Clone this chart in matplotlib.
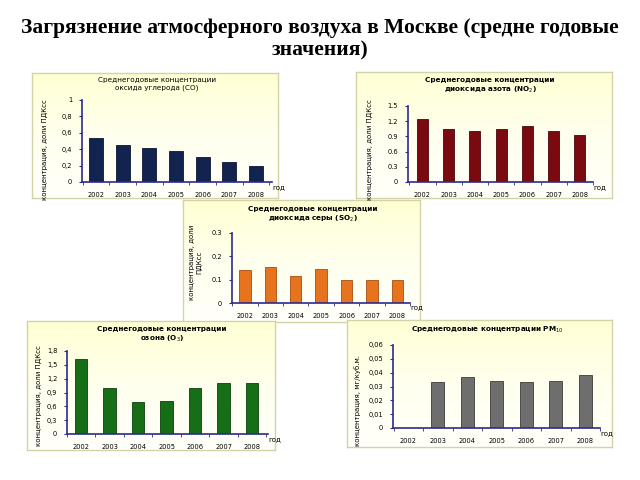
import numpy as np
import matplotlib.pyplot as plt
from matplotlib.colors import LinearSegmentedColormap

years = ['2002', '2003', '2004', '2005', '2006', '2007', '2008']

co = [0.54, 0.45, 0.42, 0.38, 0.30, 0.25, 0.20]
no2 = [1.25, 1.05, 1.00, 1.04, 1.10, 1.00, 0.92]
so2 = [0.14, 0.155, 0.115, 0.145, 0.10, 0.10, 0.10]
o3 = [1.62, 1.00, 0.70, 0.72, 1.00, 1.10, 1.10]
pm10 = [0, 0.033, 0.037, 0.034, 0.033, 0.034, 0.038]

co_ticks = [0, 0.2, 0.4, 0.6, 0.8, 1]
co_labels = ['0', '0,2', '0,4', '0,6', '0,8', '1']
no2_ticks = [0, 0.3, 0.6, 0.9, 1.2, 1.5]
no2_labels = ['0', '0.3', '0.6', '0.9', '1.2', '1.5']
so2_ticks = [0, 0.1, 0.2, 0.3]
so2_labels = ['0', '0.1', '0.2', '0.3']
o3_ticks = [0, 0.3, 0.6, 0.9, 1.2, 1.5, 1.8]
o3_labels = ['0', '0,3', '0,6', '0,9', '1,2', '1,5', '1,8']
pm_ticks = [0, 0.01, 0.02, 0.03, 0.04, 0.05, 0.06]
pm_labels = ['0', '0,01', '0,02', '0,03', '0,04', '0,05', '0,06']

W, H = 640, 480
fig = plt.figure(figsize=(6.4, 4.8), dpi=100)
fig.patch.set_facecolor('white')

grad = LinearSegmentedColormap.from_list('g', ['#FFFFD4', '#FFFFEE', '#FFFFFA'])
ramp = np.linspace(0, 1, 128).reshape(-1, 1)


def box(x0, y0, x1, y1):
    return [x0 / W, 1 - y1 / H, (x1 - x0) / W, (y1 - y0) / H]


def panel(frame, plot, xlim, vals, ticks, labels, color, edge, width,
          title, title_xy, ylabel, ylabel_xy, bold=True):
    bg = fig.add_axes(box(*frame))
    bg.set_xticks([])
    bg.set_yticks([])
    bg.imshow(ramp, cmap=grad, aspect='auto', extent=[0, 1, 0, 1],
              interpolation='bilinear')
    for s in bg.spines.values():
        s.set_color('#D4D2A8')
        s.set_linewidth(1)

    ax = fig.add_axes(box(*plot))
    ax.set_facecolor('none')
    x = range(len(vals))
    ax.bar(x, vals, width=width, color=color, edgecolor=edge, linewidth=0.6)
    ax.set_xlim(*xlim)
    ax.set_ylim(ticks[0], ticks[-1])
    ax.set_yticks(ticks)
    ax.set_yticklabels(labels)
    ax.set_xticks(list(x))
    ax.set_xticklabels(years)
    ax.set_xticks([i + 0.5 for i in range(-1, len(vals))], minor=True)
    ax.tick_params(axis='x', which='major', length=0, labelsize=4.8, pad=7)
    ax.tick_params(axis='x', which='minor', length=2, color='#2B2B8C', direction='out')
    ax.tick_params(axis='y', length=2, color='#2B2B8C', labelsize=4.8, pad=5)
    for s in ['top', 'right']:
        ax.spines[s].set_visible(False)
    for s in ['left', 'bottom']:
        ax.spines[s].set_color('#2B2B8C')
        ax.spines[s].set_linewidth(1.2)
    ax.text(1.0, -0.02, 'год', transform=ax.transAxes, fontsize=5,
            ha='left', va='top')
    fig.text(title_xy[0] / W, 1 - title_xy[1] / H, title, ha='center', va='center',
             fontsize=5.2, fontweight='bold' if bold else 'normal', linespacing=1.3)
    fig.text(ylabel_xy[0] / W, 1 - ylabel_xy[1] / H, ylabel, ha='center', va='center',
             rotation=90, fontsize=5, linespacing=1.2)


panel((32, 73, 278, 198), (82, 100, 272, 182), (-0.52, 6.6), co,
      co_ticks, co_labels, '#12234F', '#0A1530', 0.52,
      'Среднегодовые концентрации\nоксида углерода (СО)', (157, 84),
      'концентрация, доли ПДКсс', (45, 150), bold=False)

panel((356, 72, 612, 198), (408, 106, 593, 182), (-0.55, 6.25), no2,
      no2_ticks, no2_labels, '#7A0A10', '#4A0508', 0.42,
      'Среднегодовые концентрации\nдиоксида азота (NO$_2$)', (490, 86),
      'концентрация, доли ПДКсс', (370, 150))

panel((183, 200, 420, 322), (232, 233, 410, 303), (-0.51, 6.5), so2,
      so2_ticks, so2_labels, '#E8731E', '#A54E10', 0.45,
      'Среднегодовые концентрации\nдиоксида серы (SO$_2$)', (313, 215),
      'концентрация, доли\nПДКсс', (196, 262))

panel((27, 321, 275, 450), (67, 351, 268, 434), (-0.49, 6.56), o3,
      o3_ticks, o3_labels, '#166E16', '#0B400B', 0.44,
      'Среднегодовые концентрации\nозона (O$_3$)', (162, 335),
      'концентрация, доли ПДКсс', (39, 396))

panel((347, 320, 612, 447), (393, 345, 600, 428), (-0.52, 6.5), pm10,
      pm_ticks, pm_labels, '#6E6E6E', '#3A3A3A', 0.44,
      'Среднегодовые концентрации PM$_{10}$', (487, 330),
      'концентрация, мг/куб.м.', (358, 400))

fig.text(0.5, 1 - 28 / H, 'Загрязнение атмосферного воздуха в Москве (средне годовые',
         ha='center', va='center', fontsize=15.5, fontweight='bold',
         family='Liberation Serif')
fig.text(0.5, 1 - 50 / H, 'значения)', ha='center', va='center', fontsize=15.5,
         fontweight='bold', family='Liberation Serif')

fig.savefig('out.png', dpi=100)
